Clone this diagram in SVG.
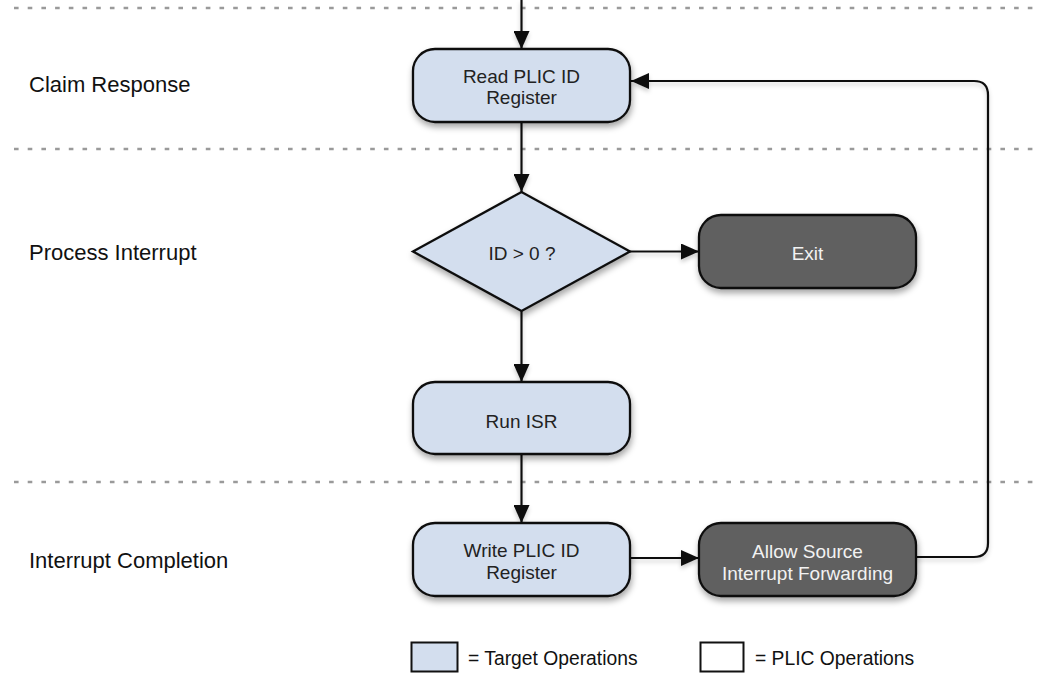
<svg xmlns="http://www.w3.org/2000/svg" width="1038" height="687" viewBox="0 0 1038 687">
<style>
.bg{fill:#ffffff}
.lane{stroke:#9a9a9a;stroke-width:2.3;stroke-dasharray:4.6 9.1;fill:none}
.lbl{font-family:"Liberation Sans",Arial,sans-serif;font-size:22px;fill:#111}
.tgt{fill:#d3deee;stroke:#111;stroke-width:2.3}
.plic{fill:#616161;stroke:#111;stroke-width:2.3}
.t{font-family:"Liberation Sans",Arial,sans-serif;font-size:19px;fill:#222;text-anchor:middle}
.tw{font-family:"Liberation Sans",Arial,sans-serif;font-size:19px;fill:#f2f2f2;text-anchor:middle}
.lg{font-family:"Liberation Sans",Arial,sans-serif;font-size:19.3px;fill:#111}
.c{fill:none;stroke:#111;stroke-width:2.2}
</style>
<defs>
<filter id="sh" x="-10%" y="-10%" width="130%" height="140%">
<feDropShadow dx="1" dy="4" stdDeviation="3" flood-color="#000" flood-opacity="0.35"/>
</filter>
<filter id="lsh" x="-5%" y="-5%" width="110%" height="110%">
<feDropShadow dx="0" dy="3" stdDeviation="2" flood-color="#000" flood-opacity="0.2"/>
</filter>
<marker id="ah" viewBox="0 0 18 16" refX="18" refY="8" markerWidth="18" markerHeight="16" markerUnits="userSpaceOnUse" orient="auto">
<path d="M0,0 L18,8 L0,16 Z" fill="#111"/>
</marker>
</defs>
<rect class="bg" x="0" y="0" width="1038" height="687"/>
<g id="lanes">
<line class="lane" x1="14" y1="8" x2="1038" y2="8"/>
<line class="lane" x1="14" y1="149" x2="1038" y2="149"/>
<line class="lane" x1="14" y1="482" x2="1038" y2="482"/>
<text class="lbl" x="29" y="92">Claim Response</text>
<text class="lbl" x="29" y="260">Process Interrupt</text>
<text class="lbl" x="29" y="568">Interrupt Completion</text>
</g>
<g id="connectors" filter="url(#lsh)">
<line class="c" x1="521.5" y1="0" x2="521.5" y2="49" marker-end="url(#ah)"/>
<line class="c" x1="521.5" y1="122" x2="521.5" y2="192" marker-end="url(#ah)"/>
<line class="c" x1="521.5" y1="311" x2="521.5" y2="382" marker-end="url(#ah)"/>
<line class="c" x1="521.5" y1="454" x2="521.5" y2="523" marker-end="url(#ah)"/>
<line class="c" x1="630" y1="251.5" x2="699" y2="251.5" marker-end="url(#ah)"/>
<line class="c" x1="630" y1="558" x2="699" y2="558" marker-end="url(#ah)"/>
<path class="c" d="M916,557 H974 Q988,557 988,543 V95 Q988,81 974,81 H631" marker-end="url(#ah)"/>
</g>
<g id="read">
<rect class="tgt" x="413" y="49" width="217" height="73" rx="22" filter="url(#sh)"/>
<text class="t" x="521.5" y="83">Read PLIC ID</text>
<text class="t" x="521.5" y="104">Register</text>
</g>
<g id="decision">
<polygon class="tgt" points="521.5,192 630,251.5 521.5,311 413,251.5" filter="url(#sh)"/>
<text class="t" x="522" y="260">ID &gt; 0 ?</text>
</g>
<g id="exit">
<rect class="plic" x="699" y="215" width="217" height="73" rx="22" filter="url(#sh)"/>
<text class="tw" x="807.5" y="260">Exit</text>
</g>
<g id="run">
<rect class="tgt" x="413" y="382" width="217" height="72" rx="22" filter="url(#sh)"/>
<text class="t" x="521.5" y="428">Run ISR</text>
</g>
<g id="write">
<rect class="tgt" x="413" y="523" width="217" height="73" rx="22" filter="url(#sh)"/>
<text class="t" x="521.5" y="557">Write PLIC ID</text>
<text class="t" x="521.5" y="579">Register</text>
</g>
<g id="allow">
<rect class="plic" x="699" y="523" width="217" height="73" rx="22" filter="url(#sh)"/>
<text class="tw" x="807.5" y="558">Allow Source</text>
<text class="tw" x="807.5" y="580">Interrupt Forwarding</text>
</g>
<g id="legend">
<rect x="411.5" y="642.5" width="46" height="29" fill="#d3deee" stroke="#111" stroke-width="2"/>
<text class="lg" x="468" y="665">= Target Operations</text>
<rect x="700.5" y="642.5" width="43" height="29" fill="#ffffff" stroke="#111" stroke-width="2"/>
<text class="lg" x="755" y="665">= PLIC Operations</text>
</g>
</svg>
